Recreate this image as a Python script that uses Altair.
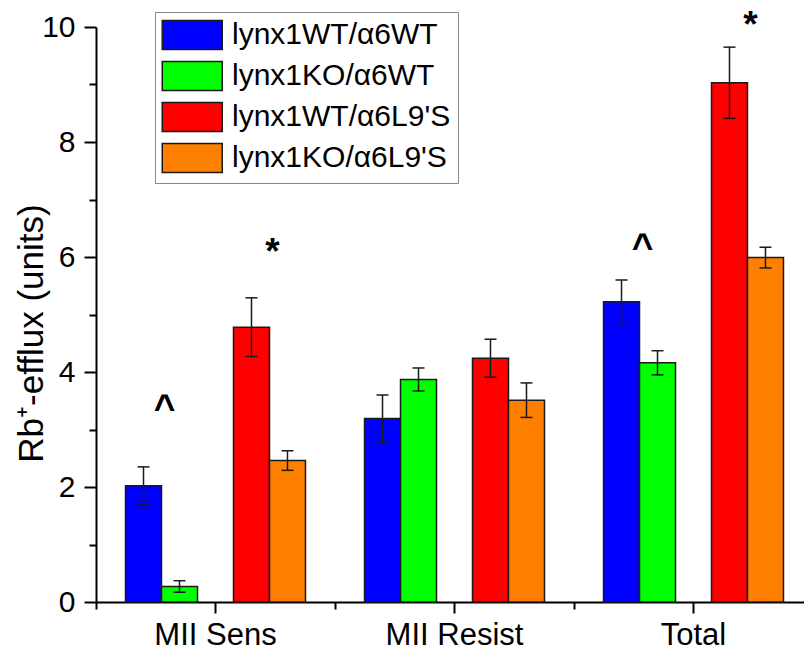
import altair as alt
import pandas as pd

# ---- data ----
groups = ["MII Sens", "MII Resist", "Total"]
series = ["lynx1WT/α6WT", "lynx1KO/α6WT", "lynx1WT/α6L9'S", "lynx1KO/α6L9'S"]
colors = ["#0000FF", "#00FF00", "#FF0000", "#FF8000"]

wt_wt = [2.02, 3.19, 5.22]
ko_wt = [0.27, 3.87, 4.16]
wt_l9s = [4.78, 4.24, 9.03]
ko_l9s = [2.46, 3.51, 5.99]

wt_wt_err = [0.33, 0.41, 0.38]
ko_wt_err = [0.10, 0.20, 0.21]
wt_l9s_err = [0.51, 0.33, 0.62]
ko_l9s_err = [0.17, 0.30, 0.18]

ann_label = ["^", "*", "^", "*"]
ann_group = ["MII Sens", "MII Sens", "Total", "Total"]
ann_pair = [series[0], series[2], series[0], series[2]]
ann_y = [3.17, 5.87, 5.97, 9.82]

y_major = [0, 2, 4, 6, 8, 10]
y_minor = [1, 3, 5, 7, 9]

# ---- tables ----
vals = [wt_wt, ko_wt, wt_l9s, ko_l9s]
errs = [wt_wt_err, ko_wt_err, wt_l9s_err, ko_l9s_err]
rows = []
for si, s in enumerate(series):
    for gi, g in enumerate(groups):
        v, e = vals[si][gi], errs[si][gi]
        rows.append({"group": g, "series": s, "value": v, "lo": v - e, "hi": v + e})
df = pd.DataFrame(rows)
ann_df = pd.DataFrame({"group": ann_group, "pair": ann_pair, "y": ann_y, "label": ann_label})

# slot order inside each group, with an empty slot in the middle
xoff_domain = [series[0], series[1], "_gap_", series[2], series[3]]

FONT = "Liberation Sans"
INK = "#1a1a1a"

x_scale = alt.Scale(domain=groups, range=[0, 717], paddingInner=0, paddingOuter=0)
y_scale = alt.Scale(domain=[0, 10], nice=False, zero=True)
xo_scale = alt.Scale(domain=xoff_domain, paddingInner=0, paddingOuter=0.82)
color_scale = alt.Scale(domain=series, range=colors)

base = alt.Chart(df)

bars = base.mark_bar(stroke=INK, strokeWidth=1.5).encode(
    x=alt.X("group:N", scale=x_scale, axis=alt.Axis(
        orient="bottom", title=None, labelAngle=0, tickSize=11,
        labelFontSize=31, labelPadding=7, labelFont=FONT)),
    xOffset=alt.XOffset("series:N", scale=xo_scale),
    y=alt.Y("value:Q", scale=y_scale, axis=alt.Axis(
        orient="left", values=y_major, tickSize=12, labelFontSize=30,
        labelPadding=9, labelFont=FONT,
        title="Rb⁺-efflux (units)", titleFontSize=35, titleFontWeight="normal",
        titleFont=FONT, titleAngle=-90, titleX=-54, titleY=306,
        titleBaseline="alphabetic", titleAlign="center")),
    color=alt.Color("series:N", scale=color_scale, legend=alt.Legend(
        title=None, orient="none", legendX=59, legendY=-15,
        symbolType="M-1.05,-0.967H2.95V0.967H-1.05Z", symbolSize=900,
        symbolStrokeColor=INK, symbolStrokeWidth=1.5, symbolOpacity=1,
        labelFontSize=30, labelFont=FONT, labelColor="black", labelLimit=400,
        labelOffset=38, rowPadding=5, padding=7,
        strokeColor="#888888", fillColor="white")),
)

minor = base.mark_point(opacity=0).encode(
    x=alt.X("group:N", axis=alt.Axis(orient="bottom", bandPosition=0, labels=False,
                                     tickSize=7, title=None, domain=False)),
    y=alt.Y("value:Q", axis=alt.Axis(orient="left", values=y_minor, labels=False,
                                     tickSize=7, title=None, domain=False)),
)

rules = base.mark_rule(color=INK, strokeWidth=1.5).encode(
    x=alt.X("group:N", axis=None),
    xOffset="series:N",
    y=alt.Y("lo:Q", axis=None),
    y2="hi:Q",
)

cap_hi = base.mark_tick(orient="horizontal", size=12, thickness=1.5, color=INK, opacity=1).encode(
    x=alt.X("group:N", axis=None),
    xOffset="series:N",
    y=alt.Y("hi:Q", axis=None),
)
cap_lo = base.mark_tick(orient="horizontal", size=12, thickness=1.5, color=INK, opacity=1).encode(
    x=alt.X("group:N", axis=None),
    xOffset="series:N",
    y=alt.Y("lo:Q", axis=None),
)

ann = alt.Chart(ann_df).mark_text(
    font=FONT, fontSize=37, fontWeight="bold", color="black",
    align="center", baseline="alphabetic", dx=21,
).encode(
    x=alt.X("group:N", axis=None),
    xOffset="pair:N",
    y=alt.Y("y:Q", axis=None),
    text="label:N",
)

chart = alt.layer(bars, minor, rules, cap_hi, cap_lo, ann).resolve_axis(
    x="independent", y="independent"
).properties(
    width=708, height=575,
    autosize=alt.AutoSizeParams(type="none"),
    padding={"left": 96, "top": 27, "right": 0, "bottom": 49},
).configure(font=FONT).configure_view(stroke=None).configure_axis(
    domainColor="black", domainWidth=2, tickColor="black", tickWidth=2,
    labelColor="black", titleColor="black", grid=False,
)

chart.save("out.html", embed_options={"renderer": "svg", "actions": False})
